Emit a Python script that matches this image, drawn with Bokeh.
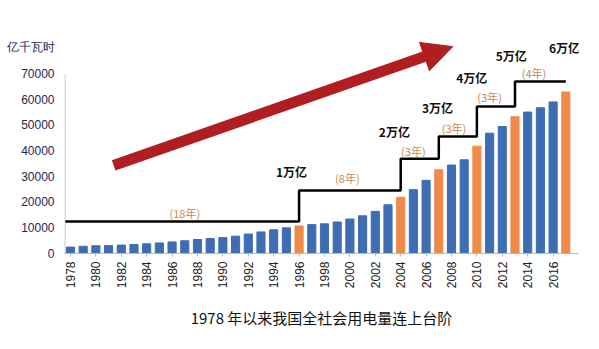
from bokeh.plotting import figure
from bokeh.models import (ColumnDataSource, FixedTicker, Label, Arrow, NormalHead, Title)
from bokeh.embed import file_html
from bokeh.resources import INLINE
from math import pi

# ---- data ----
years = list(range(1978, 2018))
consumption = [2498, 2820, 3006, 3096, 3280, 3519, 3778, 4118, 4507, 4985,
               5467, 5865, 6230, 6775, 7589, 8426, 9260, 10023, 10764, 11284,
               11598, 12305, 13472, 14723, 16465, 19032, 21971, 24940, 28588, 32712,
               34541, 36595, 41923, 47001, 49591, 53423, 55233, 56933, 59198, 63077]
milestone_years = [1996, 2004, 2007, 2010, 2013, 2017]
step_x = [1977.6, 1996, 2004, 2007, 2010, 2013, 2017]
step_y = [12500, 24600, 37000, 45700, 57400, 67200, 67200]
milestone_labels = ["1万亿", "2万亿", "3万亿", "4万亿", "5万亿", "6万亿"]
milestone_lx = [1995.4, 2003.5, 2006.9, 2009.6, 2012.7, 2016.9]
milestone_ly = [32000, 47600, 57000, 68700, 77200, 80500]
period_labels = ["(18年)", "(8年)", "(3年)", "(3年)", "(3年)", "(4年)"]
period_lx = [1987.0, 1999.8, 2005.0, 2008.2, 2011.0, 2014.5]
period_ly = [16000, 29300, 40000, 49000, 61000, 70600]
tick_years = list(range(1978, 2017, 2))
y_ticks = [0, 10000, 20000, 30000, 40000, 50000, 60000, 70000]
unit_label = "亿千瓦时"
unit_pos = 80500
caption = "1978 年以来我国全社会用电量连上台阶"
arrow_start = (1981.4, 34400)
arrow_end = (2008.1, 80800)

BLUE = "#3e6db4"
ORANGE = "#f08a4b"
colors = [ORANGE if y in milestone_years else BLUE for y in years]

src = ColumnDataSource(dict(x=years, top=consumption, color=colors))

X0, X1 = 1977.53, 2018.0
p = figure(width=599, height=349, output_backend="svg", toolbar_location=None,
           x_range=(X0, X1), y_range=(0, 87100),
           min_border_left=64, min_border_right=21, min_border_top=30, min_border_bottom=96)
p.outline_line_color = None
p.xgrid.grid_line_color = None
p.ygrid.grid_line_color = None
p.background_fill_color = "white"

# y axis line (only up to the top tick)
p.segment(x0=[X0 + 0.04], y0=[0], x1=[X0 + 0.04], y1=[y_ticks[-1]],
          line_color="#bbbbbb", line_width=1)

p.vbar(x="x", top="top", width=0.64, color="color", source=src)

p.step(step_x, step_y, mode="after", line_color="black", line_width=2.5)

CJK = "Noto Sans CJK SC"
for t, x, y in zip(milestone_labels, milestone_lx, milestone_ly):
    p.add_layout(Label(x=x, y=y, text=t, text_align="center", text_baseline="middle",
                       text_font=CJK, text_font_size="12px", text_font_style="bold",
                       text_color="#111111"))
for t, x, y in zip(period_labels, period_lx, period_ly):
    p.add_layout(Label(x=x, y=y, text=t, text_align="center", text_baseline="middle",
                       text_font=CJK, text_font_size="11px", text_color="#c98a50"))

p.add_layout(Arrow(x_start=arrow_start[0], y_start=arrow_start[1],
                   x_end=arrow_end[0], y_end=arrow_end[1],
                   line_color="#b01e22", line_width=11,
                   end=NormalHead(size=30, fill_color="#b01e22", line_color="#b01e22")))

# axes
xa = p.xaxis[0]
xa.ticker = FixedTicker(ticks=tick_years)
xa.major_label_orientation = pi / 2
xa.major_label_text_font = "Liberation Sans"
xa.major_label_text_font_size = "12px"
xa.major_label_text_color = "#222222"
xa.axis_line_color = "#bbbbbb"
xa.major_tick_line_color = "#bbbbbb"
xa.major_tick_out = 3
xa.major_tick_in = 0
xa.minor_tick_line_color = None

ya = p.yaxis[0]
ya.ticker = FixedTicker(ticks=y_ticks + [unit_pos])
ya.major_label_overrides = {unit_pos: unit_label}
ya.major_label_text_font = "Liberation Sans"
ya.major_label_text_font_size = "12px"
ya.major_label_text_color = "#1c2850"
ya.major_label_standoff = 4
ya.axis_line_color = None
ya.major_tick_line_color = None
ya.minor_tick_line_color = None

p.add_layout(Title(text=caption, align="center", text_font=CJK, text_font_size="15px",
                   text_font_style="normal", text_color="#111111", standoff=26), "below")

open("out.html", "w").write(file_html(p, INLINE))
